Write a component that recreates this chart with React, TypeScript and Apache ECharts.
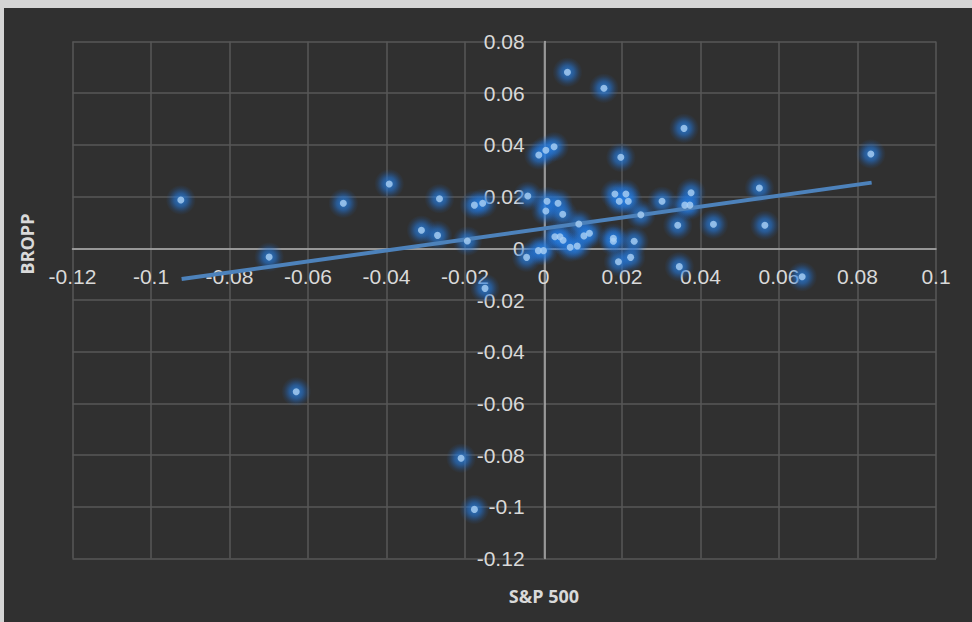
import React, { useEffect, useRef } from "react";
import * as echarts from "echarts";

const sp500: number[] = [
  -0.0924, -0.0699, -0.051, -0.0393, -0.0265, -0.0311, -0.027, -0.0194, -0.0176, -0.0155,
  -0.0149, -0.063, -0.021, -0.0176, 0.0061, 0.0154, -0.0012, 0.0006, 0.0027, 0.0197,
  -0.004, 0.0009, 0.0037, 0.0006, 0.0049, 0.009, 0.0029, 0.0042, 0.005, 0.0068,
  0.0086, 0.0103, 0.0117, -0.0043, -0.0013, 0.0, 0.0182, 0.021, 0.0193, 0.0216,
  0.0248, 0.0302, 0.0178, 0.0178, 0.0231, 0.0191, 0.0222, 0.0342, 0.0346, 0.0358,
  0.0834, 0.0376, 0.036, 0.0373, 0.0433, 0.055, 0.0564, 0.0659,
];
const bropp: number[] = [
  0.0187, -0.0034, 0.0174, 0.0249, 0.0192, 0.007, 0.005, 0.0028, 0.0167, 0.0174,
  -0.0155, -0.0555, -0.0812, -0.101, 0.0681, 0.0619, 0.0361, 0.0379, 0.0393, 0.0352,
  0.0202, 0.0182, 0.0174, 0.0144, 0.0132, 0.0094, 0.0045, 0.0045, 0.0031, 0.0004,
  0.0009, 0.0048, 0.0058, -0.0035, -0.0009, -0.0009, 0.021, 0.021, 0.0182, 0.0182,
  0.013, 0.0182, 0.0039, 0.0027, 0.0027, -0.0052, -0.0035, 0.0089, -0.0071, 0.0464,
  0.0365, 0.0215, 0.0167, 0.0167, 0.0093, 0.0233, 0.0089, -0.011,
];
const trendX: number[] = [-0.0922, 0.0836];
const trendY: number[] = [-0.0119, 0.0254];

const xTitle = "S&P 500";
const yTitle = "BROPP";

const fmt = (v: number) => {
  const r = parseFloat(v.toFixed(2));
  return r === 0 ? "0" : String(r);
};

const GRID_LEFT = 68.5;
const GRID_RIGHT = 36;
const GRID_TOP = 33.5;
const GRID_BOTTOM = 63.5;

export default function App() {
  const ref = useRef<HTMLDivElement>(null);
  useEffect(() => {
    if (!ref.current) return;
    const chart = echarts.init(ref.current, undefined, { renderer: "svg" });
    const labelStyle = {
      color: "#d9d9d9",
      fontSize: 21,
      fontFamily: "'Liberation Sans', Arial, sans-serif",
      formatter: (v: number) => fmt(v),
    };
    const points = sp500.map((x, i) => [x, bropp[i]]);
    chart.setOption({
      animation: false,
      backgroundColor: "#303030",
      grid: { left: GRID_LEFT, right: GRID_RIGHT, top: GRID_TOP, bottom: GRID_BOTTOM, containLabel: false },
      xAxis: {
        type: "value",
        min: -0.12,
        max: 0.1,
        interval: 0.02,
        position: "bottom",
        axisLine: { onZero: false, lineStyle: { color: "#b0b0b0", width: 1.5 } },
        axisTick: { show: false },
        axisLabel: { ...labelStyle, margin: 18 },
        splitLine: { show: true, lineStyle: { color: "#575757", width: 1.5 } },
      },
      yAxis: {
        type: "value",
        min: -0.12,
        max: 0.08,
        interval: 0.02,
        position: "left",
        axisLine: { onZero: false, lineStyle: { color: "#b0b0b0", width: 1.5 } },
        axisTick: { show: false },
        axisLabel: { ...labelStyle, margin: 20 },
        splitLine: { show: true, lineStyle: { color: "#575757", width: 1.5 } },
      },
      graphic: [
        {
          type: "text",
          x: 23,
          y: 236,
          rotation: Math.PI / 2,
          style: {
            text: yTitle,
            fill: "#d9d9d9",
            font: "bold 18px 'Open Sans', 'Liberation Sans', sans-serif",
            align: "center",
            verticalAlign: "middle",
          },
        },
        {
          type: "text",
          x: 540,
          y: 588,
          style: {
            text: xTitle,
            fill: "#d9d9d9",
            font: "bold 18px 'Open Sans', 'Liberation Sans', sans-serif",
            align: "center",
            verticalAlign: "middle",
          },
        },
      ],
      series: [
        {
          type: "scatter",
          data: points,
          symbolSize: 30,
          silent: true,
          itemStyle: {
            color: new echarts.graphic.RadialGradient(0.5, 0.5, 0.5, [
              { offset: 0, color: "rgba(45,140,240,1)" },
              { offset: 0.45, color: "rgba(35,120,220,0.7)" },
              { offset: 0.8, color: "rgba(30,105,200,0.2)" },
              { offset: 1, color: "rgba(30,105,200,0)" },
            ]),
          },
          z: 1,
        },
        {
          type: "line",
          data: trendX.map((x, i) => [x, trendY[i]]),
          symbol: "none",
          lineStyle: { color: "#4d82bb", width: 4 },
          z: 2,
          silent: true,
        },
        {
          type: "scatter",
          data: points,
          symbolSize: 7,
          itemStyle: { color: "#aacff4" },
          z: 3,
        },
      ],
    });
    const zero = chart.convertToPixel({ gridIndex: 0 }, [0, 0]) as number[];
    const h = chart.getHeight();
    const bottomY = h - GRID_BOTTOM;
    chart.setOption({
      xAxis: { offset: -(bottomY - zero[1]) },
      yAxis: { offset: -(zero[0] - GRID_LEFT) },
    });
    return () => chart.dispose();
  }, []);
  return (
    <div
      style={{
        position: "fixed",
        left: 0,
        top: 0,
        width: 972,
        height: 622,
        background: "#d4d4d4",
      }}
    >
      <div
        ref={ref}
        style={{ position: "absolute", left: 4, top: 8, width: 968, height: 614 }}
      />
    </div>
  );
}
